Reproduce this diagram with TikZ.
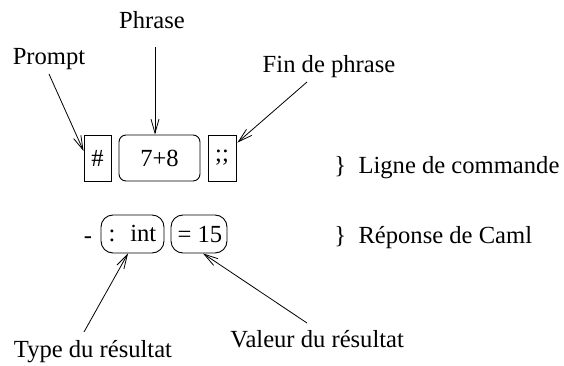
\documentclass[tikz,border=0pt]{standalone}
\usepackage{fontspec}
\setmainfont{Liberation Serif}
\usetikzlibrary{arrows.meta,calc}
\begin{document}
\begin{tikzpicture}[x=1pt,y=-1pt,
  font=\fontsize{24.6}{28}\selectfont,
  line width=0.9pt,
  box/.style={draw, inner sep=0pt, minimum height=46pt},
  rbox/.style={draw, inner sep=0pt, rounded corners=12pt, minimum height=38pt},
  lbl/.style={inner sep=0pt, anchor=base},
  arr/.style={-{Straight Barb[length=14pt,width=8pt]}, line width=0.8pt}]
\useasboundingbox (0,0) rectangle (564,366);
% row 1
\node[box, minimum width=27pt] (hash) at (97.5,158) {\#};
\node[box, rounded corners=7pt, minimum width=81pt] (phr) at (159.5,158) {7+8};
\node[box, minimum width=28pt] (semi) at (222,158) {;;};
\node[lbl, anchor=base west] (ligne) at (334,173) {\}\hspace{0.5em}Ligne de commande};
% row 2
\node[lbl] (dash) at (88,243) {-};
\node[rbox, minimum width=63pt] (typ) at (132.5,234) {:\hspace{0.6em}int};
\node[rbox, minimum width=56pt] (val) at (199,234) {\hspace{2pt}= 15};
\node[lbl, anchor=base west] (rep) at (334,243) {\}\hspace{0.5em}Réponse de Caml};
% labels
\node[lbl] (prompt) at (49,65) {Prompt};
\node[lbl] (phrase) at (152,29) {Phrase};
\node[lbl] (fin) at (329,73) {Fin de phrase};
\node[lbl] (type) at (93,357) {Type du résultat};
\node[lbl, anchor=base west] (valeur) at (230,347) {Valeur du résultat};
% arrow free ends
\coordinate (p1) at (49,74);
\coordinate (p2) at (155,47);
\coordinate (p3) at (307,82);
\coordinate (p4) at (84,332);
\coordinate (p5) at (307,323);
\draw[arr] (p1) -- ([yshift=7pt]hash.west);
\draw[arr] (p2) -- ([xshift=-4.5pt]phr.north);
\draw[arr] (p3) -- ([yshift=-8pt,xshift=1pt]semi.north east);
\draw[arr] (p4) -- ([xshift=-4.5pt]typ.south);
\draw[arr] (p5) -- ([xshift=4pt]val.south);
\end{tikzpicture}
\end{document}
